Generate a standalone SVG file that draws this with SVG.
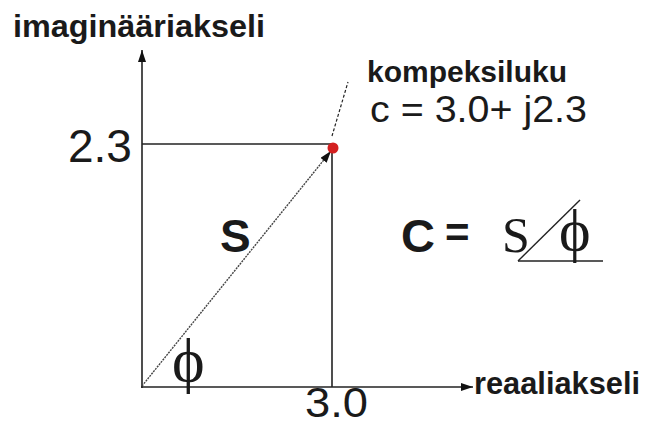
<svg xmlns="http://www.w3.org/2000/svg" width="649" height="427" viewBox="0 0 649 427">
<style>
.ax{stroke:#222;stroke-width:1.6;fill:none}
.lbl{font-family:"Liberation Sans",Arial,sans-serif;font-weight:bold;fill:#1a1a1a}
.num{font-family:"Liberation Sans",Arial,sans-serif;fill:#1a1a1a}
.ser{font-family:"Liberation Serif","Times New Roman",serif;fill:#1a1a1a}
</style>
<defs>
<marker id="ah" viewBox="0 0 12 8" refX="12" refY="4" markerWidth="12" markerHeight="8" markerUnits="userSpaceOnUse" orient="auto">
<path d="M0,0 L12,4 L0,8 Z" fill="#111"/>
</marker>
</defs>
<rect width="649" height="427" fill="#fff"/>
<g id="connectors">
<line class="ax" x1="142" y1="388" x2="142" y2="50" marker-end="url(#ah)"/>
<line class="ax" x1="141" y1="387" x2="473" y2="387" marker-end="url(#ah)"/>
<line class="ax" x1="142" y1="144" x2="332" y2="144"/>
<line class="ax" x1="332" y1="144" x2="332" y2="387"/>
<line x1="142" y1="386" x2="331" y2="151" stroke="#444" stroke-width="1.4" stroke-dasharray="2 1" marker-end="url(#ah)"/>
<line x1="332" y1="136" x2="348" y2="82" stroke="#222" stroke-width="1.2" stroke-dasharray="3 2"/>
</g>
<g id="point">
<circle cx="333" cy="148" r="5.5" fill="#d42020"/>
</g>
<g id="labels">
<text class="lbl" x="13" y="37" font-size="31" textLength="252" lengthAdjust="spacingAndGlyphs">imaginääriakseli</text>
<text class="lbl" x="474" y="394" font-size="31" textLength="166" lengthAdjust="spacingAndGlyphs">reaaliakseli</text>
<text class="lbl" x="367" y="82" font-size="30" textLength="200" lengthAdjust="spacingAndGlyphs">kompeksiluku</text>
<text class="num" x="370" y="122" font-size="37" textLength="217" lengthAdjust="spacingAndGlyphs">c = 3.0+ j2.3</text>
<text class="num" x="68" y="162" font-size="46">2.3</text>
<text class="num" x="305" y="417" font-size="43" textLength="63" lengthAdjust="spacingAndGlyphs">3.0</text>
<text class="lbl" x="220" y="252" font-size="46">S</text>
<text class="ser" x="172" y="381" font-size="62">ϕ</text>
</g>
<g id="formula">
<text class="lbl" x="401" y="252" font-size="47">C</text>
<text class="lbl" x="445" y="247" font-size="42">=</text>
<text class="ser" x="502" y="252" font-size="50">S</text>
<line x1="518" y1="261" x2="603" y2="261" stroke="#222" stroke-width="1.6"/>
<line x1="518" y1="261" x2="580" y2="200" stroke="#222" stroke-width="1.4"/>
<text class="ser" x="559" y="250" font-size="60">ϕ</text>
</g>
</svg>
